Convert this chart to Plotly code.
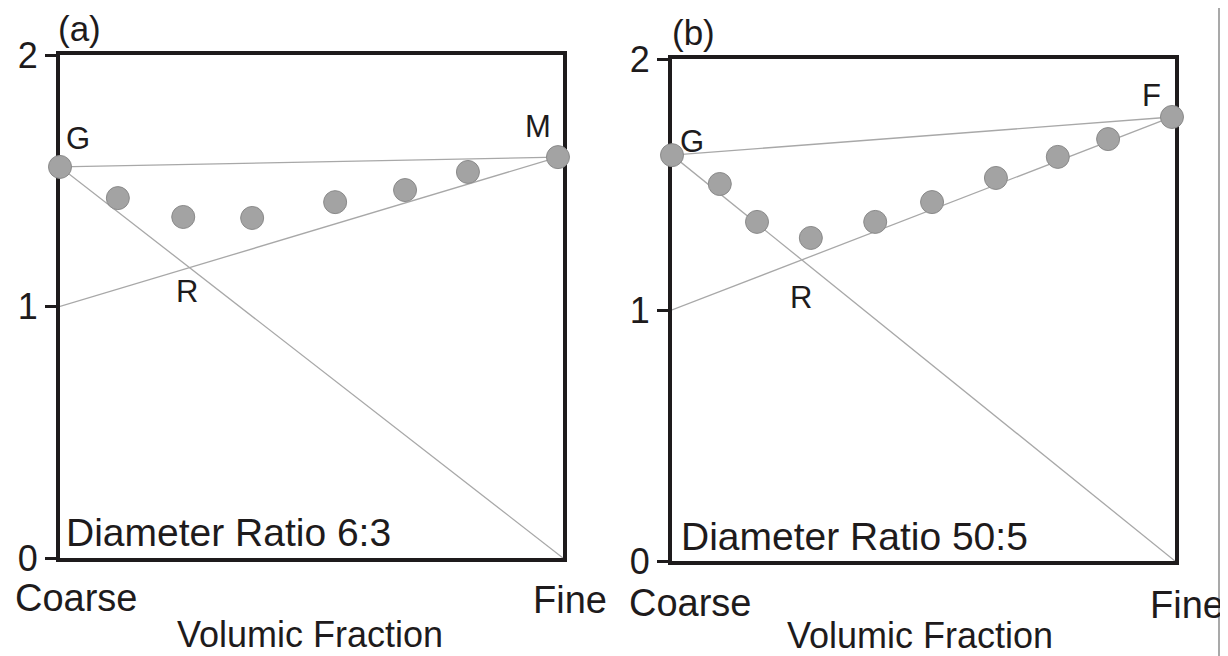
import plotly.graph_objects as go

# ---------------- data ----------------
# Panel (a): Diameter Ratio 6:3
a_frac = [0.0, 0.115, 0.245, 0.382, 0.547, 0.686, 0.811, 0.99]
a_val = [1.555, 1.431, 1.356, 1.352, 1.415, 1.463, 1.535, 1.594]
a_line_GM_x = [0.0, 0.99]
a_line_GM_y = [1.555, 1.594]
a_line_G0_x = [0.0, 1.0]
a_line_G0_y = [1.555, 0.0]
a_line_1M_x = [0.0, 0.99]
a_line_1M_y = [1.0, 1.594]

# Panel (b): Diameter Ratio 50:5
b_frac = [0.0, 0.095, 0.169, 0.276, 0.404, 0.517, 0.644, 0.767, 0.867, 0.994]
b_val = [1.617, 1.502, 1.351, 1.287, 1.351, 1.430, 1.526, 1.610, 1.681, 1.769]
b_line_GF_x = [0.0, 0.994]
b_line_GF_y = [1.617, 1.769]
b_line_G0_x = [0.0, 1.0]
b_line_G0_y = [1.617, 0.0]
b_line_1F_x = [0.0, 0.994]
b_line_1F_y = [1.0, 1.769]

y_ticks = [0, 1, 2]
y_tick_text = ["0", "1", "2"]

FONT = "Liberation Sans, Arial, sans-serif"
INK = "#1e1b1c"
LINE_GREY = "#a8a8a8"
DOT_FILL = "#a3a3a3"
DOT_EDGE = "#8a8a8a"

# the page has an 8px body margin; figure fills the rest of the 1228x656 window
OFF = 8
W, H = 1228 - OFF, 656 - OFF

def fx_(px):
    return (px - OFF) / W

def fy_(py):
    return 1 - (py - OFF) / H

fig = go.Figure()

def add_panel(xa, ya, lines, fx, fy):
    for lx, ly in lines:
        fig.add_trace(go.Scatter(x=lx, y=ly, mode="lines", xaxis=xa, yaxis=ya,
                                 line=dict(color=LINE_GREY, width=1.3),
                                 showlegend=False, hoverinfo="skip", cliponaxis=False))
    fig.add_trace(go.Scatter(x=fx, y=fy, mode="markers", xaxis=xa, yaxis=ya,
                             marker=dict(size=23, color=DOT_FILL,
                                         line=dict(color=DOT_EDGE, width=1)),
                             showlegend=False, cliponaxis=False))

add_panel("x", "y",
          [(a_line_GM_x, a_line_GM_y), (a_line_G0_x, a_line_G0_y), (a_line_1M_x, a_line_1M_y)],
          a_frac, a_val)
add_panel("x2", "y2",
          [(b_line_GF_x, b_line_GF_y), (b_line_G0_x, b_line_G0_y), (b_line_1F_x, b_line_1F_y)],
          b_frac, b_val)

xcommon = dict(range=[0, 1], showline=True, mirror=True, linewidth=4, linecolor=INK,
               showticklabels=False, ticks="", showgrid=False, zeroline=False,
               layer="below traces", fixedrange=True, automargin=False)
ycommon = dict(range=[0, 2], showline=True, mirror=True, linewidth=4, linecolor=INK,
               tickmode="array", tickvals=y_ticks, ticktext=y_tick_text,
               ticks="outside", ticklen=11, tickwidth=3, tickcolor=INK,
               tickfont=dict(family=FONT, size=36, color=INK),
               showgrid=False, zeroline=False, layer="below traces", fixedrange=True,
               automargin=False)

fig.update_layout(
    template="none",
    width=W, height=H,
    margin=dict(l=0, r=0, t=0, b=0, pad=0, autoexpand=False),
    paper_bgcolor="white", plot_bgcolor="white",
    font=dict(family=FONT, color=INK),
    showlegend=False,
    xaxis=dict(domain=[fx_(60), fx_(563)], anchor="y", **xcommon),
    yaxis=dict(domain=[fy_(558), fy_(55)], anchor="x", **ycommon),
    xaxis2=dict(domain=[fx_(672), fx_(1175)], anchor="y2", **xcommon),
    yaxis2=dict(domain=[fy_(561), fy_(59)], anchor="x2", **ycommon),
)

def ann(px, py, text, size=33, xanchor="center"):
    # px, py: pixel position in the browser window (top-left origin)
    fig.add_annotation(x=fx_(px), y=fy_(py), xref="paper", yref="paper", text=text,
                       showarrow=False, xanchor=xanchor, yanchor="middle",
                       font=dict(family=FONT, size=size, color=INK))

# panel (a) labels
ann(79, 28, "(a)", size=35)
ann(78, 138, "G", size=31)
ann(538, 126, "M", size=31)
ann(187, 292, "R", size=31)
ann(64, 532, "Diameter Ratio 6:3", size=39, xanchor="left")
ann(76, 598, "Coarse", size=38)
ann(570, 600, "Fine", size=38)
ann(310, 634, "Volumic Fraction", size=36)

# panel (b) labels
ann(693, 33, "(b)", size=35)
ann(692, 141, "G", size=31)
ann(1151, 95, "F", size=31)
ann(801, 297, "R", size=31)
ann(679, 536, "Diameter Ratio 50:5", size=39, xanchor="left")
ann(690, 603, "Coarse", size=38)
ann(1187, 605, "Fine", size=38)
ann(920, 635, "Volumic Fraction", size=36)

# thin page border at the right edge
fig.add_shape(type="line", xref="paper", yref="paper", x0=fx_(1219), x1=fx_(1219), y0=0, y1=1,
              line=dict(color="#8c8c8c", width=1.5))

fig.write_html("out.html")
